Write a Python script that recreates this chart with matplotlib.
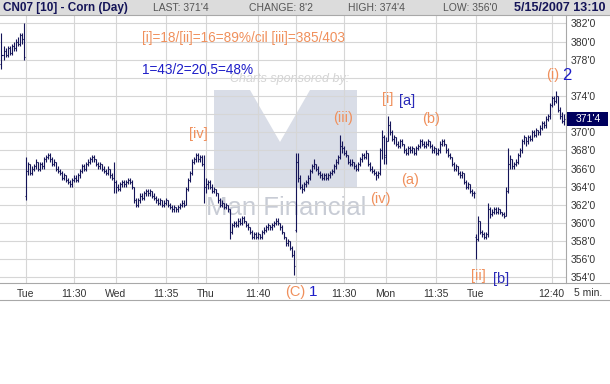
import matplotlib
matplotlib.use("Agg")
import matplotlib.pyplot as plt
from matplotlib.collections import LineCollection
from matplotlib.patches import Polygon, Rectangle
from matplotlib.lines import Line2D

# ---------------- data: 5-minute OHLC bars (cents) ----------------
opens = [
    # previous day (end)
    377.5, 378.5, 379.0, 378.5, 379.25, 378.75, 379.5, 379.25, 380.0, 379.75, 380.75, 380.25,
    # Tue
    363.0, 365.75, 366.5, 365.5, 366.0, 366.25, 366.75, 366.0, 366.5, 366.25, 367.0, 367.25, 367.5, 367.0, 366.5,
    366.75, 366.0, 365.75, 365.5, 365.0, 365.25, 364.75, 364.5, 364.25, 364.75, 365.0, 364.75, 365.25, 365.75, 366.25,
    366.0, 366.5, 366.75, 367.0, 367.25, 367.0, 366.5, 366.25, 366.5, 366.0, 365.75, 365.5, 366.0, 365.25, 365.0,
    # Wed
    364.5, 364.0, 363.75, 364.25, 364.5, 364.25, 364.5, 364.75, 364.5, 364.0, 362.5, 362.0, 362.5, 363.0, 362.75,
    363.25, 363.5, 363.25, 363.5, 363.0, 362.75, 362.5, 362.25, 362.5, 362.0, 362.25, 362.5, 362.0, 361.75, 361.5,
    361.75, 361.5, 361.75, 362.0, 362.25, 362.0, 363.75, 364.75, 365.5, 366.75, 367.0, 367.5, 367.0, 367.25, 366.5,
    # Thu
    364.0, 364.25, 364.5, 364.0, 363.5, 363.75, 363.25, 362.5, 362.0, 362.25, 361.75, 362.0, 361.5, 359.0, 359.75,
    360.0, 359.75, 360.25, 360.0, 360.5, 360.25, 359.75, 359.5, 359.0, 358.5, 358.75, 358.5, 358.75, 358.5, 359.0,
    359.25, 359.5, 359.75, 359.5, 359.75, 360.0, 360.25, 360.0, 359.5, 359.0, 358.5, 357.75, 358.0, 357.25, 356.5,
    # Fri
    359.25, 366.75, 365.0, 364.0, 363.75, 364.25, 364.5, 365.0, 365.75, 366.25, 366.5, 366.0, 365.5, 365.25, 365.0,
    365.25, 365.0, 365.25, 365.5, 365.75, 366.25, 366.75, 367.25, 368.5, 368.25, 367.75, 367.5, 366.75, 366.5, 366.75,
    366.25, 366.0, 366.5, 367.0, 367.5, 367.25, 367.75, 366.5, 366.0, 365.75, 365.5, 365.25, 365.5, 368.0, 369.5,
    # Mon
    367.5, 369.0, 370.75, 370.0, 369.25, 369.5, 368.75, 368.5, 369.0, 368.75, 368.0, 367.75, 368.25, 368.0, 368.25,
    367.75, 368.25, 368.5, 369.0, 368.75, 368.5, 368.75, 369.0, 368.5, 368.0, 368.25, 367.75, 368.0, 368.75, 369.0,
    368.75, 368.0, 367.5, 367.25, 366.5, 366.0, 366.25, 365.5, 365.25, 365.5, 364.5, 364.0, 364.25, 363.5, 363.25,
    # Tue
    358.5, 358.25, 360.25, 359.0, 358.75, 358.5, 358.75, 361.5, 361.0, 361.25, 361.5, 361.25, 361.5, 361.25, 361.0,
    360.75, 363.5, 366.5, 367.0, 366.25, 366.5, 366.75, 367.5, 368.0, 369.0, 369.5, 369.0, 369.5, 369.25, 370.0,
    369.75, 370.25, 370.0, 370.5, 371.0, 370.75, 371.5, 371.75, 373.0, 373.75, 373.5, 374.0, 372.5, 371.75, 371.25,
]
highs = [
    381.0, 379.5, 379.25, 379.5, 379.5, 379.75, 380.0, 380.25, 380.5, 381.0, 381.0, 382.0,
    367.25, 366.75, 366.5, 366.25, 366.5, 367.0, 366.75, 366.75, 366.75, 367.25, 367.5, 367.75, 367.75, 367.25, 367.0,
    366.75, 366.25, 366.0, 365.75, 365.5, 365.25, 365.0, 364.75, 365.0, 365.25, 365.25, 365.5, 366.0, 366.5, 366.5,
    366.75, 367.0, 367.25, 367.5, 367.5, 367.0, 366.75, 366.75, 366.5, 366.25, 366.0, 366.25, 366.0, 365.5, 366.75,
    364.75, 364.25, 364.5, 364.75, 364.75, 364.75, 365.0, 365.0, 364.75, 364.0, 362.75, 362.75, 363.25, 363.25, 363.5,
    363.75, 363.75, 363.75, 363.5, 363.25, 363.0, 362.75, 362.75, 362.5, 362.5, 362.75, 362.5, 362.25, 362.0, 362.0,
    361.75, 362.0, 362.25, 362.5, 362.5, 364.0, 365.0, 365.75, 367.0, 367.25, 367.75, 367.75, 367.5, 367.5, 367.5,
    365.0, 364.75, 364.75, 364.25, 364.0, 363.75, 363.25, 362.75, 362.5, 362.25, 362.25, 362.0, 361.5, 360.0, 360.25,
    360.25, 360.5, 360.5, 360.75, 360.75, 360.25, 360.0, 359.5, 359.25, 359.0, 359.0, 359.0, 358.75, 359.25, 359.5,
    359.75, 360.0, 359.75, 360.0, 360.25, 360.5, 360.5, 360.0, 359.75, 359.0, 358.5, 358.25, 358.0, 357.5, 357.0,
    367.75, 367.75, 365.25, 364.25, 364.5, 364.75, 365.25, 366.0, 366.5, 367.0, 366.5, 366.25, 365.75, 365.5, 365.5,
    365.5, 365.5, 365.75, 366.0, 366.5, 367.0, 367.5, 369.75, 369.0, 368.5, 368.0, 367.5, 367.0, 367.0, 366.75,
    366.5, 366.75, 367.25, 367.75, 367.75, 368.0, 367.75, 366.75, 366.25, 366.0, 365.75, 365.75, 368.25, 370.25, 369.75,
    369.5, 371.75, 371.25, 370.25, 369.75, 369.5, 369.0, 369.25, 369.25, 368.75, 368.25, 368.5, 368.5, 368.5, 368.25,
    368.5, 368.75, 369.25, 369.25, 369.0, 369.0, 369.25, 369.0, 368.75, 368.5, 368.25, 368.25, 369.0, 369.25, 369.25,
    368.75, 368.25, 367.75, 367.25, 366.75, 366.5, 366.25, 365.75, 365.75, 365.5, 364.75, 364.5, 364.25, 363.75, 363.5,
    358.75, 360.75, 360.25, 359.25, 359.0, 359.0, 362.25, 361.75, 361.5, 361.75, 361.75, 361.75, 361.5, 361.25, 361.25,
    364.0, 368.25, 367.5, 367.0, 366.75, 367.0, 367.75, 368.25, 369.25, 369.75, 369.5, 369.75, 369.75, 370.25, 370.25,
    370.5, 370.25, 370.75, 371.25, 371.25, 371.75, 372.0, 373.25, 374.0, 374.0, 374.5, 374.0, 372.75, 372.25, 372.0,
]
lows = [
    377.0, 378.0, 378.25, 378.25, 378.5, 378.5, 379.0, 379.0, 379.5, 379.5, 379.75, 378.0,
    362.5, 365.25, 365.25, 365.25, 365.75, 366.0, 365.75, 365.75, 366.0, 366.0, 366.75, 367.0, 366.75, 366.25, 366.25,
    365.75, 365.5, 365.25, 364.75, 364.75, 364.5, 364.25, 364.0, 364.0, 364.5, 364.5, 364.5, 365.0, 365.5, 365.75,
    365.75, 366.25, 366.5, 366.75, 366.75, 366.25, 366.0, 366.0, 365.75, 365.5, 365.25, 365.25, 365.0, 364.75, 363.25,
    363.25, 363.5, 363.5, 364.0, 364.0, 364.0, 364.25, 364.25, 363.75, 362.25, 361.75, 361.75, 362.25, 362.5, 362.5,
    363.0, 363.0, 363.0, 362.75, 362.5, 362.25, 362.0, 362.0, 361.75, 361.75, 362.0, 361.75, 361.5, 361.25, 361.25,
    361.25, 361.25, 361.5, 361.75, 361.75, 362.0, 363.5, 364.5, 365.25, 366.5, 366.75, 366.75, 366.75, 366.25, 362.25,
    363.25, 363.75, 363.75, 363.25, 363.25, 363.0, 362.25, 361.75, 361.75, 361.5, 361.5, 361.25, 358.25, 358.75, 359.5,
    359.5, 359.5, 359.75, 359.75, 360.0, 359.5, 359.25, 358.75, 358.25, 358.25, 358.25, 358.25, 358.25, 358.25, 358.75,
    359.0, 359.25, 359.25, 359.25, 359.5, 359.75, 359.75, 359.25, 358.75, 358.25, 357.5, 357.5, 357.0, 356.25, 354.25,
    359.0, 364.5, 363.75, 363.25, 363.5, 364.0, 364.25, 364.75, 365.5, 366.0, 365.75, 365.25, 365.0, 364.75, 364.75,
    364.75, 364.75, 365.0, 365.25, 365.5, 366.0, 366.5, 367.0, 367.75, 367.5, 367.25, 366.5, 366.25, 366.25, 366.0,
    365.75, 365.75, 366.25, 366.75, 367.0, 367.0, 366.25, 365.75, 365.5, 365.25, 364.75, 365.0, 365.25, 367.0, 366.5,
    366.5, 369.0, 369.75, 369.0, 368.75, 368.5, 368.25, 368.25, 368.5, 367.75, 367.5, 367.5, 367.75, 367.75, 367.5,
    367.5, 368.0, 368.25, 368.5, 368.25, 368.25, 368.5, 368.25, 367.75, 367.75, 367.5, 367.5, 367.75, 368.5, 368.5,
    367.75, 367.25, 367.0, 366.25, 365.75, 365.75, 365.25, 365.0, 365.0, 364.25, 363.75, 363.75, 363.25, 363.0, 362.75,
    356.0, 358.0, 358.75, 358.5, 358.25, 358.25, 358.5, 360.5, 360.75, 361.0, 361.0, 361.0, 361.0, 360.75, 360.5,
    360.75, 363.25, 366.0, 366.0, 366.0, 366.25, 366.5, 367.25, 367.75, 368.75, 368.5, 368.75, 369.0, 369.0, 369.5,
    369.5, 369.75, 369.75, 370.25, 370.5, 370.5, 371.25, 371.5, 372.75, 373.0, 373.25, 372.25, 371.5, 371.0, 370.75,
]
closes = [
    378.5, 379.0, 378.5, 379.25, 378.75, 379.5, 379.25, 380.0, 379.75, 380.75, 380.25, 378.25,
    365.75, 366.5, 365.5, 366.0, 366.25, 366.75, 366.0, 366.5, 366.25, 367.0, 367.25, 367.5, 367.0, 366.5, 366.75,
    366.0, 365.75, 365.5, 365.0, 365.25, 364.75, 364.5, 364.25, 364.75, 365.0, 364.75, 365.25, 365.75, 366.25, 366.0,
    366.5, 366.75, 367.0, 367.25, 367.0, 366.5, 366.25, 366.5, 366.0, 365.75, 365.5, 366.0, 365.25, 365.0, 364.5,
    364.0, 363.75, 364.25, 364.5, 364.25, 364.5, 364.75, 364.5, 364.0, 362.5, 362.0, 362.5, 363.0, 362.75, 363.25,
    363.5, 363.25, 363.5, 363.0, 362.75, 362.5, 362.25, 362.5, 362.0, 362.25, 362.5, 362.0, 361.75, 361.5, 361.75,
    361.5, 361.75, 362.0, 362.25, 362.0, 363.75, 364.75, 365.5, 366.75, 367.0, 367.5, 367.0, 367.25, 366.5, 364.0,
    364.25, 364.5, 364.0, 363.5, 363.75, 363.25, 362.5, 362.0, 362.25, 361.75, 362.0, 361.5, 359.0, 359.75, 360.0,
    359.75, 360.25, 360.0, 360.5, 360.25, 359.75, 359.5, 359.0, 358.5, 358.75, 358.5, 358.75, 358.5, 359.0, 359.25,
    359.5, 359.75, 359.5, 359.75, 360.0, 360.25, 360.0, 359.5, 359.0, 358.5, 357.75, 358.0, 357.25, 356.5, 355.25,
    366.75, 365.0, 364.0, 363.75, 364.25, 364.5, 365.0, 365.75, 366.25, 366.5, 366.0, 365.5, 365.25, 365.0, 365.25,
    365.0, 365.25, 365.5, 365.75, 366.25, 366.75, 367.25, 368.5, 368.25, 367.75, 367.5, 366.75, 366.5, 366.75, 366.25,
    366.0, 366.5, 367.0, 367.5, 367.25, 367.75, 366.5, 366.0, 365.75, 365.5, 365.25, 365.5, 368.0, 369.5, 367.25,
    369.0, 370.75, 370.0, 369.25, 369.5, 368.75, 368.5, 369.0, 368.75, 368.0, 367.75, 368.25, 368.0, 368.25, 367.75,
    368.25, 368.5, 369.0, 368.75, 368.5, 368.75, 369.0, 368.5, 368.0, 368.25, 367.75, 368.0, 368.75, 369.0, 368.75,
    368.0, 367.5, 367.25, 366.5, 366.0, 366.25, 365.5, 365.25, 365.5, 364.5, 364.0, 364.25, 363.5, 363.25, 363.25,
    358.25, 360.25, 359.0, 358.75, 358.5, 358.75, 361.5, 361.0, 361.25, 361.5, 361.25, 361.5, 361.25, 361.0, 360.75,
    363.5, 366.5, 367.0, 366.25, 366.5, 366.75, 367.5, 368.0, 369.0, 369.5, 369.0, 369.5, 369.25, 370.0, 369.75,
    370.25, 370.0, 370.5, 371.0, 370.75, 371.5, 371.75, 373.0, 373.75, 373.5, 374.0, 372.5, 371.75, 371.25, 371.5,
]
if not (len(opens) == len(highs) == len(lows) == len(closes)):
    raise ValueError(f"lengths {len(opens)} {len(highs)} {len(lows)} {len(closes)}")

tick_pos = [12, 36, 57, 82, 102, 128, 171, 192, 217, 237, 275]
tick_labels = ["Tue", "11:30", "Wed", "11:35", "Thu", "11:40", "11:30", "Mon", "11:35", "Tue", "12:40"]
day_breaks = [12, 57, 102, 147, 192, 237]
price_ticks = [354, 356, 358, 360, 362, 364, 366, 368, 370, 372, 374, 376, 378, 380, 382]
# 372'0 and 376'0 are hidden behind the last-price box and the wave label "2"
price_labels = ["354'0", "356'0", "358'0", "360'0", "362'0", "364'0", "366'0", "368'0",
                "370'0", "", "374'0", "", "378'0", "380'0", "382'0"]
last_label = "371'4"

# ---------------- layout ----------------
W, H = 610, 384
fig = plt.figure(figsize=(W / 100, H / 100), dpi=100)
fig.patch.set_facecolor("white")


def fx(x):
    return x / W


def fy(y):
    return 1 - y / H


ax = fig.add_axes([0, fy(283), fx(566), (283 - 15) / H])
ax.set_xlim(-0.75, 282.25)
ax.set_ylim(353.38, 382.93)
for s in ax.spines.values():
    s.set_visible(False)

NAVY = "#141458"
ORANGE = "#f0905c"
BLUE = "#1e1ec8"
GRID = "#d6d6d6"
SANS = "Liberation Sans"

# grid
for p in price_ticks:
    ax.axhline(p, color=GRID, lw=0.8, zorder=1)
for xg in sorted(set(tick_pos + day_breaks)):
    ax.axvline(xg, color=GRID, lw=0.8, zorder=1)

# watermark logo
logo_pts = [(214, 90), (250, 90), (280, 142), (310, 90), (357, 90), (357, 188), (214, 188)]
ax.add_patch(Polygon([(fx(a), fy(b)) for a, b in logo_pts], closed=True, transform=fig.transFigure,
                     facecolor="#d9dde7", edgecolor="none", zorder=0.5))
ax.text(fx(206), fy(208), "Man Financial", transform=fig.transFigure, fontsize=18.5, family=SANS,
        color="#c8ccd5", va="center", ha="left", zorder=0.6)
ax.text(fx(230), fy(79), "Charts sponsored by:", transform=fig.transFigure, fontsize=9, family=SANS,
        style="italic", color="#d4d4d4", va="center", ha="left", zorder=0.6)

# OHLC bars
segs = []
for i, (o, h, l, c) in enumerate(zip(opens, highs, lows, closes)):
    segs.append([(i, l), (i, h)])
    segs.append([(i - 0.5, o), (i, o)])
    segs.append([(i, c), (i + 0.5, c)])
ax.add_collection(LineCollection(segs, colors=NAVY, linewidths=0.8, antialiased=True, zorder=3))

# axes ticks
ax.set_xticks(tick_pos, tick_labels)
ax.yaxis.tick_right()
ax.set_yticks(price_ticks, price_labels)
ax.tick_params(axis="x", length=0, pad=4, labelsize=7.5, labelcolor="#333333")
ax.tick_params(axis="y", length=0, pad=3, labelsize=7.5, labelcolor="#333333")
for lab in ax.get_xticklabels() + ax.get_yticklabels():
    lab.set_family(SANS)

# frame lines
for (x0, y0, x1, y1) in [(0, 283, W, 283), (0, 300, W, 300), (566, 15, 566, 283), (0, 15, W, 15)]:
    fig.add_artist(Line2D([fx(x0), fx(x1)], [fy(y0), fy(y1)], color="#a8a8a8", lw=0.8))

# header
fig.add_artist(Rectangle((0, fy(15)), 1, 15 / H, transform=fig.transFigure, facecolor="#dcdcdc",
                         edgecolor="none", zorder=0))
fig.text(fx(3), fy(8), "CN07 [10] - Corn (Day)", fontsize=8.5, weight="bold", color=NAVY, family=SANS,
         va="center", ha="left")
for x0, s in [(153, "LAST: 371'4"), (249, "CHANGE: 8'2"), (348, "HIGH: 374'4"), (443, "LOW: 356'0")]:
    fig.text(fx(x0), fy(8), s, fontsize=7.5, color="#555555", family=SANS, va="center", ha="left")
fig.text(fx(606), fy(8), "5/15/2007 13:10", fontsize=9, weight="bold", color=NAVY, family=SANS,
         va="center", ha="right")
fig.text(fx(588), fy(293), "5 min.", fontsize=7.5, color="#333333", family=SANS, va="center", ha="center")

# last price box
fig.add_artist(Rectangle((fx(567), fy(126)), fx(41), 14 / H, transform=fig.transFigure,
                         facecolor="#00005e", edgecolor="none", zorder=5))
fig.text(fx(588), fy(119), last_label, fontsize=7.5, color="white", family=SANS, va="center",
         ha="center", zorder=6)

# wave annotations
fig.text(fx(142), fy(38), "[i]=18/[ii]=16=89%/cil [iii]=385/403", fontsize=9.8, color=ORANGE, family=SANS,
         va="center", ha="left")
fig.text(fx(142), fy(70), "1=43/2=20,5=48%", fontsize=9.8, color=BLUE, family=SANS, va="center", ha="left")
ann = [
    (198, 134, "[iv]", ORANGE), (343, 118, "(iii)", ORANGE), (388, 99, "[i]", ORANGE),
    (407, 101, "[a]", "#2a2ab8"), (431, 119, "(b)", ORANGE), (410, 180, "(a)", ORANGE),
    (380, 199, "(iv)", ORANGE), (553, 75, "(i)", ORANGE), (478, 276, "[ii]", ORANGE),
    (501, 279, "[b]", "#2a2ab8"), (295, 292, "(C)", ORANGE),
]
for x0, y0, s, col in ann:
    fig.text(fx(x0), fy(y0), s, fontsize=10.5, color=col, family=SANS, va="center", ha="center", zorder=7)
fig.text(fx(567), fy(75), "2", fontsize=12, color=BLUE, family=SANS, va="center", ha="center", zorder=7)
fig.text(fx(313), fy(292), "1", fontsize=11, color=BLUE, family=SANS, va="center", ha="center", zorder=7)

fig.savefig("out.png", dpi=100)
